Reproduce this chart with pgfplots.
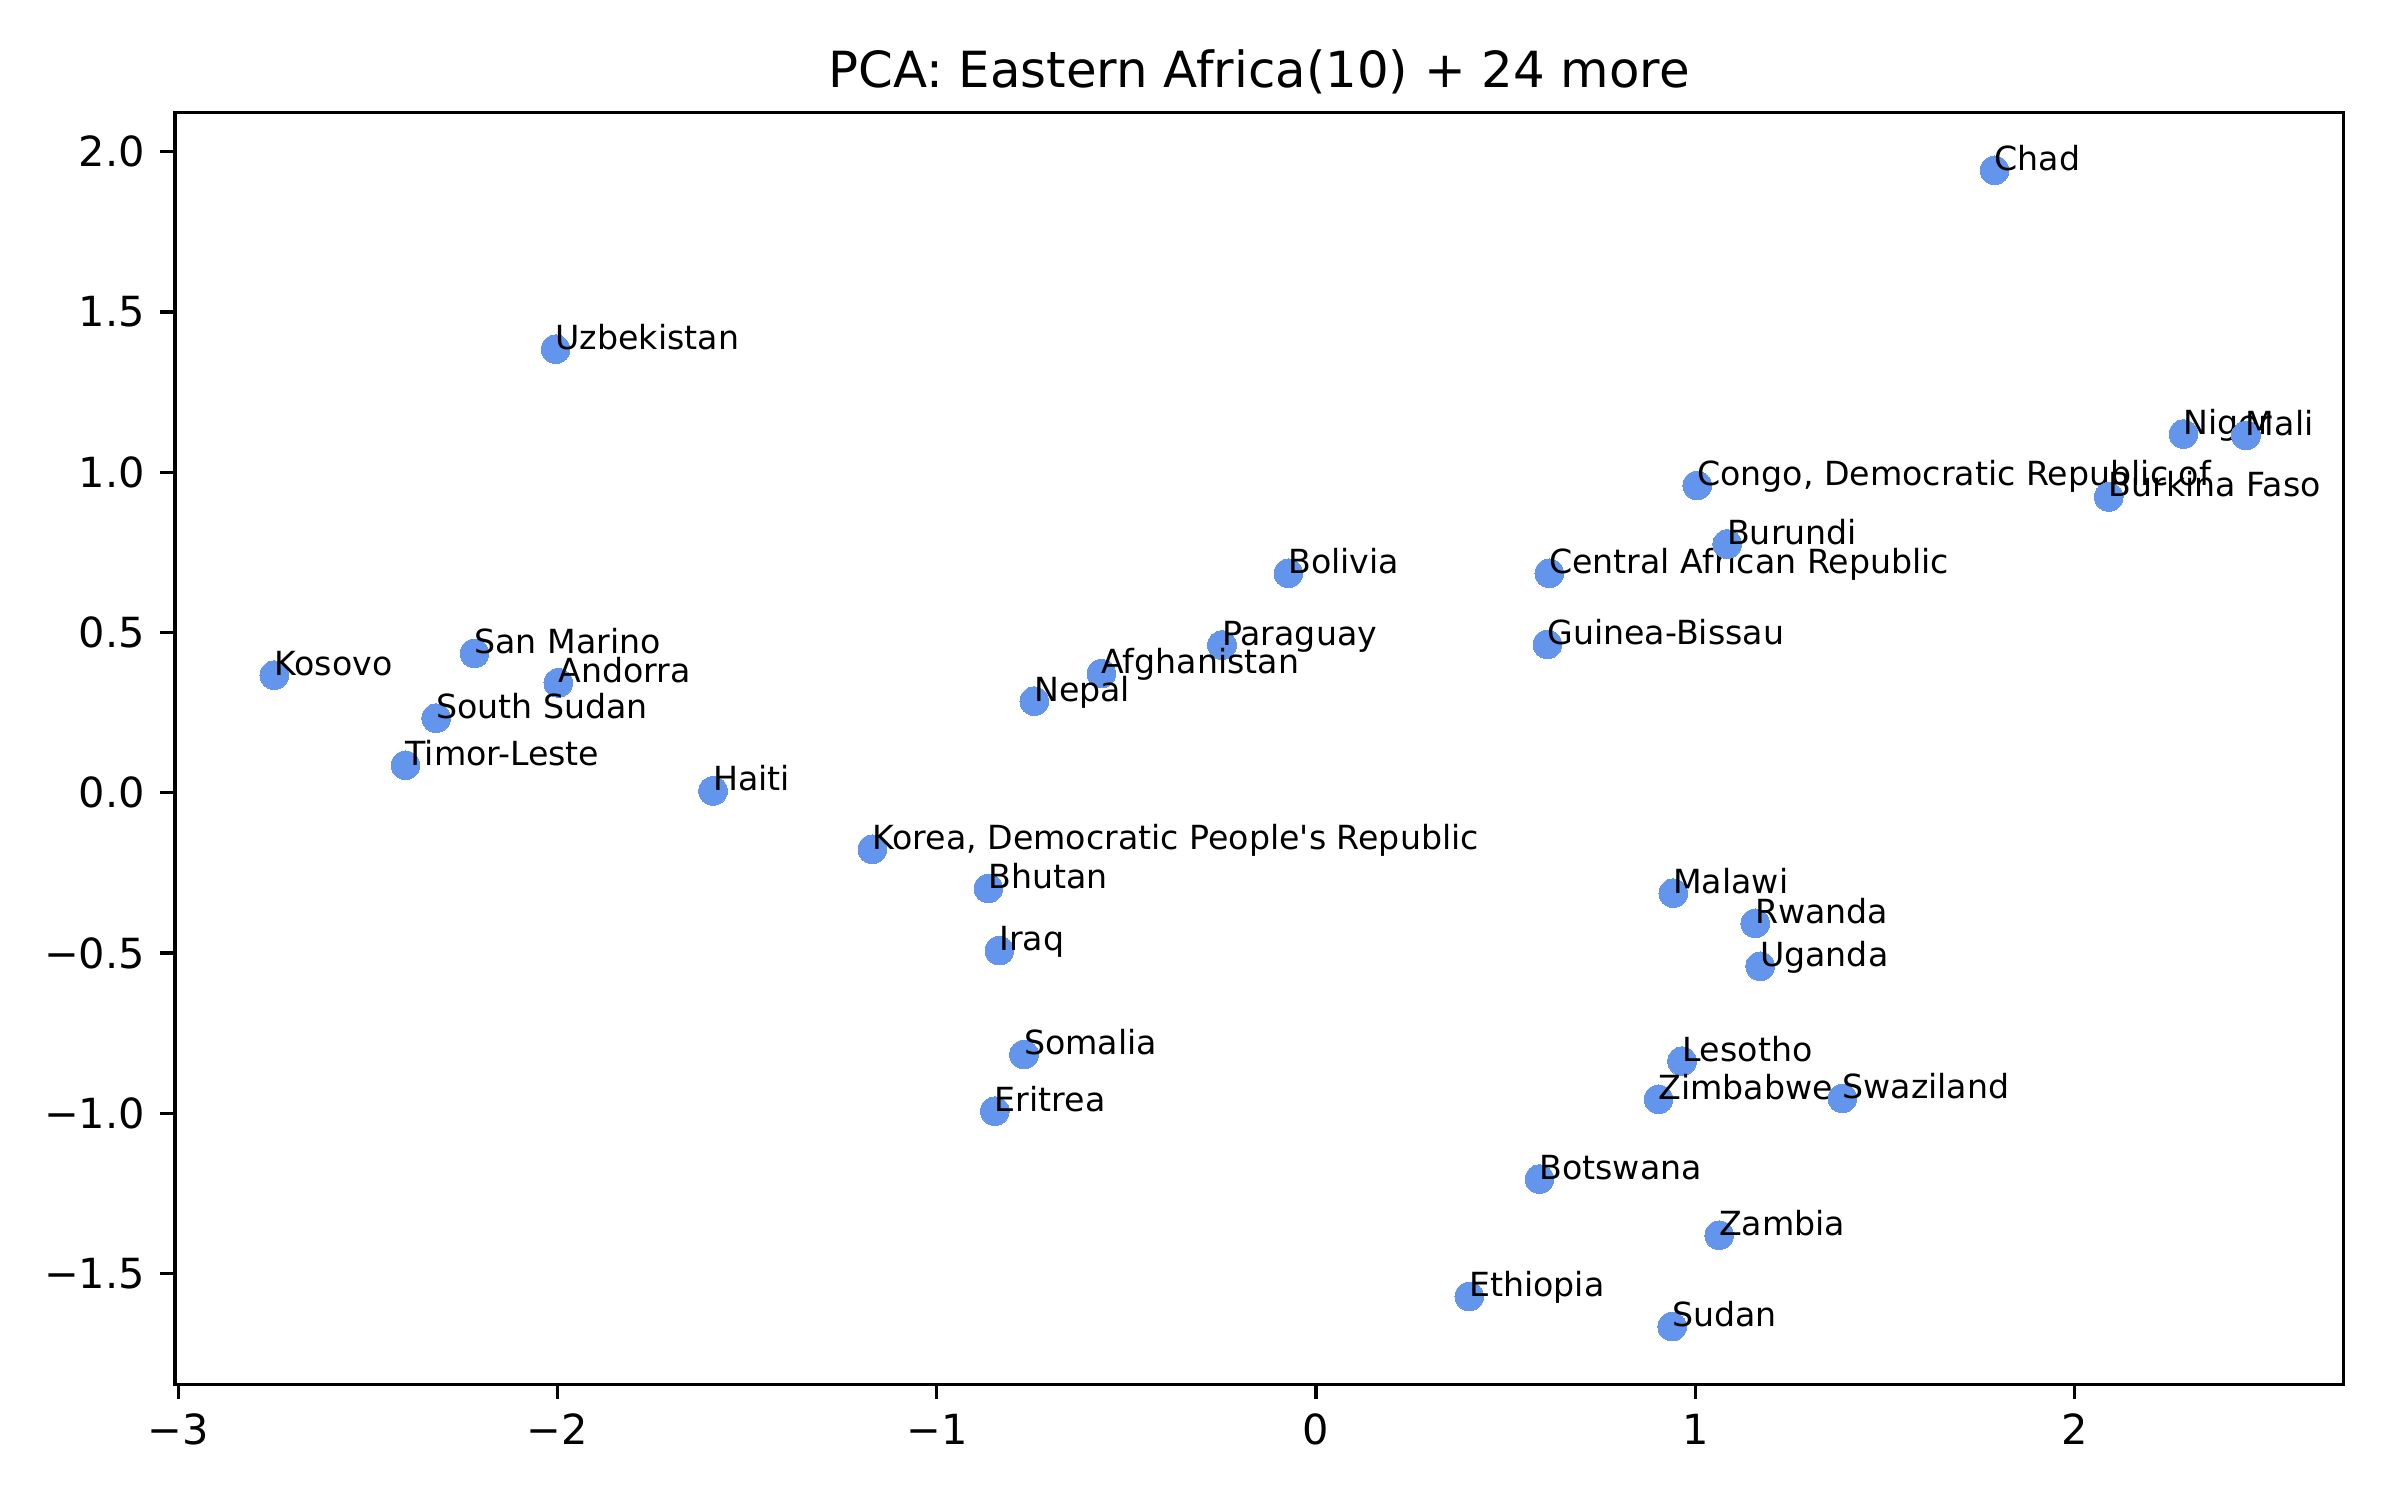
\documentclass[border=0pt]{standalone}
\usepackage{fontspec}
\setmainfont{DejaVu Sans}
\usepackage{pgfplots}
\usepackage{pgfplotstable}
\pgfplotsset{compat=1.18}
\definecolor{cornflower}{RGB}{100,149,237}

% first two principal components, one row per country
\pgfplotstableread{
x       y       label
-2.747   0.367  Kosovo
-2.219   0.435  {San Marino}
-1.998   0.343  Andorra
-2.320   0.233  {South Sudan}
-2.401   0.086  Timor-Leste
-1.590   0.006  Haiti
-2.005   1.384  Uzbekistan
-0.073   0.685  Bolivia
-0.248   0.461  Paraguay
-0.566   0.372  Afghanistan
-0.743   0.286  Nepal
-1.170  -0.176  {Korea, Democratic People\textquotesingle s Republic}
-0.864  -0.298  Bhutan
-0.835  -0.492  Iraq
-0.770  -0.816  Somalia
-0.847  -0.993  Eritrea
 0.615   0.685  {Central African Republic}
 0.610   0.463  Guinea-Bissau
 1.789   1.942  Chad
 2.287   1.119  Niger
 2.452   1.115  Mali
 1.005   0.959  {Congo, Democratic Republic of}
 2.090   0.923  {Burkina Faso}
 1.084   0.776  Burundi
 0.942  -0.313  Malawi
 1.158  -0.407  Rwanda
 1.171  -0.541  Uganda
 0.965  -0.837  Lesotho
 0.903  -0.956  Zimbabwe
 1.388  -0.953  Swaziland
 0.589  -1.205  Botswana
 1.063  -1.380  Zambia
 0.404  -1.571  Ethiopia
 0.939  -1.665  Sudan
}\pcadata

\begin{document}
\begin{tikzpicture}
\path[use as bounding box] (-0.583in,-0.3857in) rectangle (7.417in,4.6143in);
\begin{axis}[
  at={(0,0)}, anchor=south west,
  scale only axis,
  width=7.228in, height=4.24in,
  xmin=-3.009, xmax=2.7086,
  ymin=-1.845, ymax=2.123,
  clip=false,
  axis line style={line width=0.8pt},
  tick align=outside,
  tick pos=left,
  major tick length=3.5pt,
  every tick/.style={black, line width=0.8pt},
  xtick={-3,-2,-1,0,1,2},
  xticklabels={−3,−2,−1,0,1,2},
  ytick={-1.5,-1,-0.5,0,0.5,1,1.5,2},
  yticklabels={−1.5,−1.0,−0.5,0.0,0.5,1.0,1.5,2.0},
  tick label style={font=\fontsize{10}{12}\selectfont, inner sep=0pt},
  xticklabel style={anchor=north, yshift=-3.5pt},
  yticklabel style={anchor=east, xshift=-3.5pt},
  title={PCA: Eastern Africa(10) + 24 more},
  title style={at={(0.5,1)}, anchor=base, yshift=0pt, inner sep=0pt,
    font=\fontsize{12}{14.4}\selectfont},
]
\addplot[
  color=cornflower,
  only marks,
  mark=*,
  mark size=3.45pt,
  mark options={draw=cornflower, fill=cornflower, line width=0pt},
  point meta=explicit symbolic,
  nodes near coords,
  nodes near coords align={anchor=base west},
  every node near coord/.append style={inner sep=0pt, text=black,
    font=\fontsize{8}{9.6}\selectfont},
] table[x=x, y=y, meta=label] {\pcadata};
\end{axis}
\end{tikzpicture}
\end{document}
